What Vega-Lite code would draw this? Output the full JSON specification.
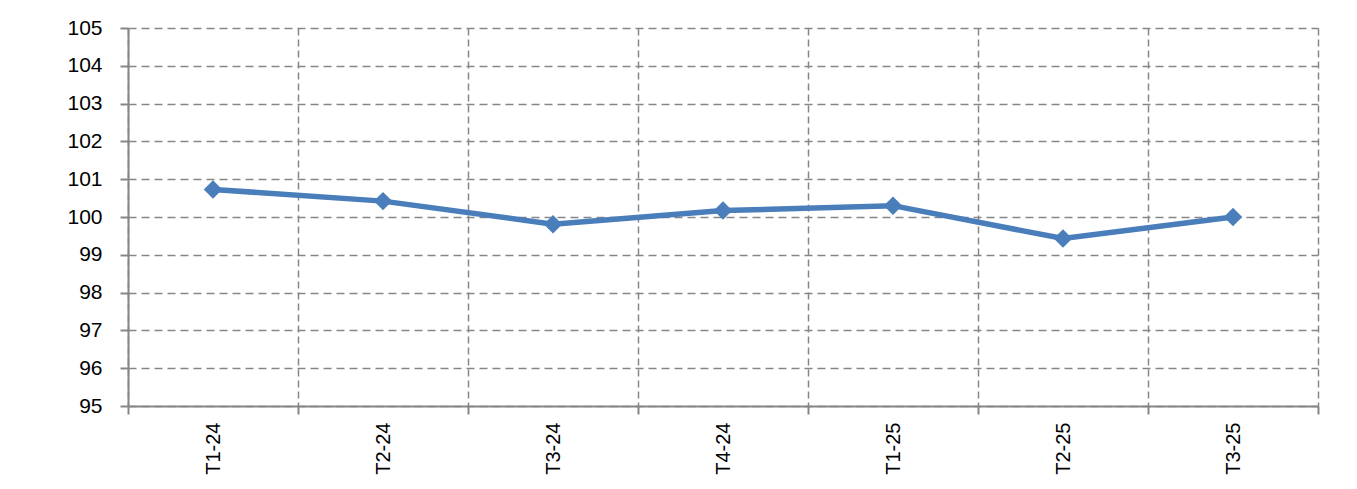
{
  "$schema": "https://vega.github.io/schema/vega-lite/v6.json",
  "width": 1190,
  "height": 378,
  "autosize": {"type": "none"},
  "padding": {"left": 128, "top": 28, "right": 39, "bottom": 83},
  "background": "white",
  "data": {
    "values": [
      {"period": "T1-24", "value": 100.73},
      {"period": "T2-24", "value": 100.42},
      {"period": "T3-24", "value": 99.81},
      {"period": "T4-24", "value": 100.17},
      {"period": "T1-25", "value": 100.3},
      {"period": "T2-25", "value": 99.43},
      {"period": "T3-25", "value": 100.0}
    ]
  },
  "config": {
    "view": {"stroke": null},
    "font": "Liberation Sans"
  },
  "encoding": {
    "x": {
      "field": "period",
      "type": "ordinal",
      "sort": null,
      "scale": {"paddingInner": 0, "paddingOuter": 0},
      "axis": {
        "title": null,
        "labelAngle": -90,
        "labelAlign": "right",
        "labelBaseline": "middle",
        "labelFontSize": 20,
        "labelColor": "#000000",
        "labelPadding": 8,
        "tickBand": "extent",
        "tickSize": 8,
        "tickColor": "#868686",
        "tickWidth": 2,
        "domainColor": "#868686",
        "domainWidth": 2,
        "grid": true,
        "gridColor": "#868686",
        "gridWidth": 1.5,
        "gridDash": [7, 4]
      }
    },
    "y": {
      "field": "value",
      "type": "quantitative",
      "scale": {"domain": [95, 105], "nice": false, "zero": false},
      "axis": {
        "title": null,
        "values": [95, 96, 97, 98, 99, 100, 101, 102, 103, 104, 105],
        "labelFontSize": 21,
        "labelColor": "#000000",
        "labelPadding": 18,
        "tickSize": 8,
        "tickColor": "#868686",
        "tickWidth": 2,
        "domainColor": "#868686",
        "domainWidth": 2,
        "grid": true,
        "gridColor": "#868686",
        "gridWidth": 1.5,
        "gridDash": [8, 5]
      }
    }
  },
  "layer": [
    {
      "mark": {"type": "line", "color": "#4a7ebb", "strokeWidth": 5.5}
    },
    {
      "mark": {"type": "point", "shape": "diamond", "filled": true, "color": "#4a7ebb", "opacity": 1, "size": 340}
    }
  ]
}
